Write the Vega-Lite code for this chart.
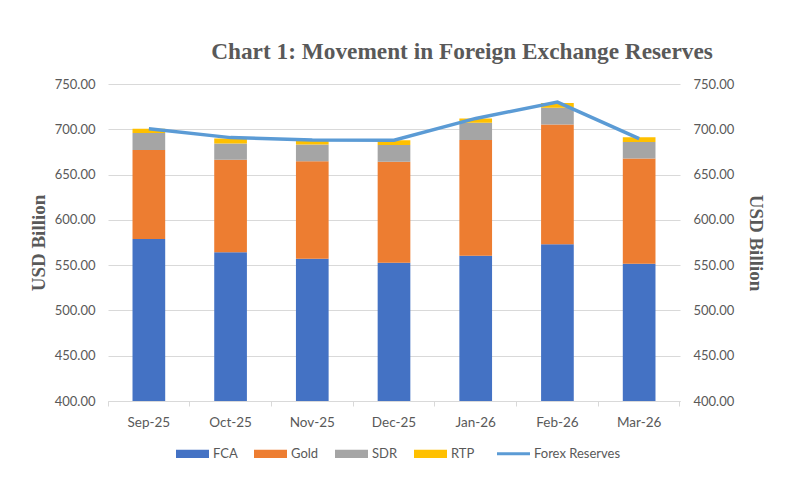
{
  "$schema": "https://vega.github.io/schema/vega-lite/v6.json",
  "width": 572,
  "height": 317,
  "autosize": {"type": "none"},
  "padding": {"left": 108, "top": 84, "right": 107, "bottom": 102},
  "background": "white",
  "config": {
    "view": {"stroke": null},
    "axis": {"labelFont": "Lato", "labelFontSize": 13, "labelColor": "#595959", "titleFont": "Liberation Serif", "titleFontWeight": "bold", "titleFontSize": 19, "titleColor": "#595959"},
    "legend": {"labelFont": "Lato", "labelFontSize": 13, "labelColor": "#595959"}
  },
  "title": {
    "text": "Chart 1: Movement in Foreign Exchange Reserves",
    "font": "Liberation Serif",
    "fontSize": 23.3,
    "fontWeight": "bold",
    "color": "#595959",
    "anchor": "middle",
    "frame": "group",
    "dx": 68,
    "offset": 14
  },
  "datasets": {
    "bars": [
      {"month": "Sep-25", "component": "FCA", "ord": 1, "value": 579.0},
      {"month": "Sep-25", "component": "Gold", "ord": 2, "value": 98.0},
      {"month": "Sep-25", "component": "SDR", "ord": 3, "value": 18.9},
      {"month": "Sep-25", "component": "RTP", "ord": 4, "value": 4.7},
      {"month": "Oct-25", "component": "FCA", "ord": 1, "value": 564.1},
      {"month": "Oct-25", "component": "Gold", "ord": 2, "value": 102.2},
      {"month": "Oct-25", "component": "SDR", "ord": 3, "value": 18.1},
      {"month": "Oct-25", "component": "RTP", "ord": 4, "value": 5.3},
      {"month": "Nov-25", "component": "FCA", "ord": 1, "value": 557.0},
      {"month": "Nov-25", "component": "Gold", "ord": 2, "value": 107.8},
      {"month": "Nov-25", "component": "SDR", "ord": 3, "value": 18.5},
      {"month": "Nov-25", "component": "RTP", "ord": 4, "value": 4.8},
      {"month": "Dec-25", "component": "FCA", "ord": 1, "value": 552.6},
      {"month": "Dec-25", "component": "Gold", "ord": 2, "value": 111.5},
      {"month": "Dec-25", "component": "SDR", "ord": 3, "value": 18.5},
      {"month": "Dec-25", "component": "RTP", "ord": 4, "value": 5.2},
      {"month": "Jan-26", "component": "FCA", "ord": 1, "value": 560.4},
      {"month": "Jan-26", "component": "Gold", "ord": 2, "value": 127.8},
      {"month": "Jan-26", "component": "SDR", "ord": 3, "value": 18.9},
      {"month": "Jan-26", "component": "RTP", "ord": 4, "value": 4.8},
      {"month": "Feb-26", "component": "FCA", "ord": 1, "value": 573.0},
      {"month": "Feb-26", "component": "Gold", "ord": 2, "value": 132.2},
      {"month": "Feb-26", "component": "SDR", "ord": 3, "value": 18.5},
      {"month": "Feb-26", "component": "RTP", "ord": 4, "value": 5.2},
      {"month": "Mar-26", "component": "FCA", "ord": 1, "value": 551.4},
      {"month": "Mar-26", "component": "Gold", "ord": 2, "value": 116.4},
      {"month": "Mar-26", "component": "SDR", "ord": 3, "value": 18.1},
      {"month": "Mar-26", "component": "RTP", "ord": 4, "value": 5.2}
    ],
    "line": [
      {"month": "Sep-25", "series": "Forex Reserves", "reserves": 700.6},
      {"month": "Oct-25", "series": "Forex Reserves", "reserves": 690.8},
      {"month": "Nov-25", "series": "Forex Reserves", "reserves": 688.3},
      {"month": "Dec-25", "series": "Forex Reserves", "reserves": 688.0},
      {"month": "Jan-26", "series": "Forex Reserves", "reserves": 712.0},
      {"month": "Feb-26", "series": "Forex Reserves", "reserves": 730.0},
      {"month": "Mar-26", "series": "Forex Reserves", "reserves": 689.6}
    ]
  },
  "encoding": {
    "x": {
      "field": "month",
      "type": "nominal",
      "sort": ["Sep-25", "Oct-25", "Nov-25", "Dec-25", "Jan-26", "Feb-26", "Mar-26"],
      "scale": {"paddingInner": 0, "paddingOuter": 0},
      "axis": {
        "title": null,
        "labelAngle": 0,
        "bandPosition": 1,
        "tickExtra": true,
        "labelOffset": 0,
        "domainColor": "#d9d9d9",
        "tickColor": "#d9d9d9",
        "tickSize": 5,
        "labelPadding": 9,
        "labelFontSize": 13.5,
        "grid": false
      }
    }
  },
  "layer": [
    {
      "data": {"name": "bars"},
      "mark": {"type": "bar", "width": {"band": 0.4}, "clip": true},
      "encoding": {
        "y": {
          "field": "value",
          "type": "quantitative",
          "aggregate": "sum",
          "stack": "zero",
          "scale": {"domain": [400, 750], "zero": false, "nice": false},
          "axis": {
            "title": "USD Billion",
            "orient": "left",
            "values": [400, 450, 500, 550, 600, 650, 700, 750],
            "format": ".2f",
            "domain": false,
            "ticks": false,
            "gridColor": "#d9d9d9",
            "labelPadding": 13,
            "titlePadding": 6
          }
        },
        "color": {
          "field": "component",
          "type": "nominal",
          "scale": {
            "domain": ["FCA", "Gold", "SDR", "RTP", "Forex Reserves"],
            "range": ["#4472C4", "#ED7D31", "#A5A5A5", "#FFC000", "#5B9BD5"]
          },
          "legend": {
            "title": null,
            "orient": "none",
            "direction": "horizontal",
            "legendX": 78,
            "legendY": 363,
            "symbolSize": 1089,
            "symbolType": "M-1,-0.25L1,-0.25L1,0.25L-1,0.25Z",
            "labelOffset": 14,
            "columnPadding": 16,
            "padding": 0,
            "encode": {
              "symbols": {
                "update": {
                  "shape": {"signal": "datum.value === 'Forex Reserves' ? 'M-1,0L1,0' : 'M-1,-0.25L1,-0.25L1,0.25L-1,0.25Z'"},
                  "strokeWidth": {"signal": "datum.value === 'Forex Reserves' ? 3 : 0"},
                  "stroke": {"signal": "datum.value === 'Forex Reserves' ? '#5B9BD5' : null"},
                  "fill": {"signal": "datum.value === 'Forex Reserves' ? null : scale('color', datum.value)"}
                }
              }
            }
          }
        },
        "order": {"field": "ord", "type": "quantitative"}
      }
    },
    {
      "data": {"name": "line"},
      "mark": {"type": "line", "strokeWidth": 3.5, "color": "#5B9BD5"},
      "encoding": {
        "y": {
          "field": "reserves",
          "type": "quantitative",
          "axis": {
            "title": "USD Billion",
            "orient": "right",
            "values": [400, 450, 500, 550, 600, 650, 700, 750],
            "format": ".2f",
            "domain": false,
            "ticks": false,
            "grid": false,
            "labelPadding": 13,
            "titlePadding": 12
          }
        },
        "color": {"field": "series", "type": "nominal"}
      }
    }
  ],
  "resolve": {"axis": {"y": "independent"}}
}
